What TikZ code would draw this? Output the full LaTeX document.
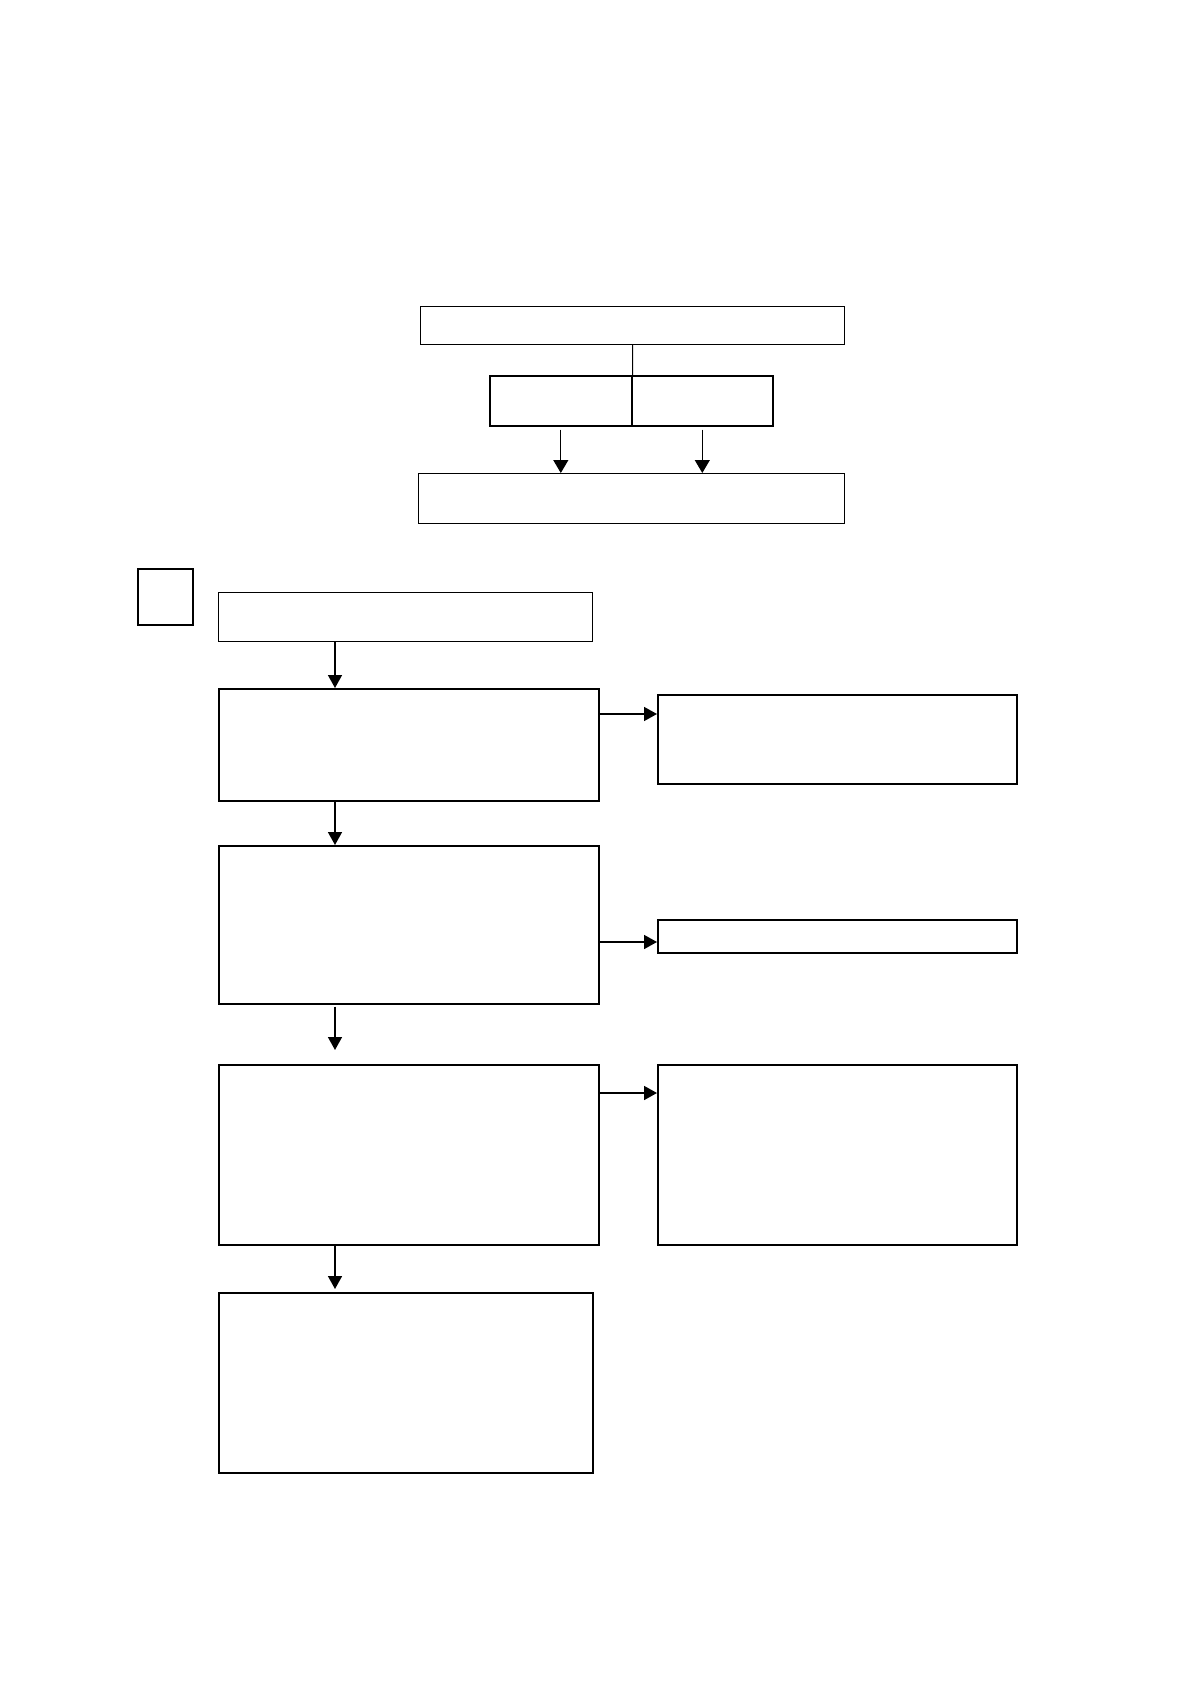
\documentclass[tikz,border=0pt]{standalone}
\usepackage{tikz}
\usetikzlibrary{arrows.meta,positioning,calc}
\tikzset{
  boxnd/.style={draw=black, line width=0.8pt, inner sep=0pt, anchor=north west},
  thinbox/.style={boxnd, line width=0.55pt},
  flow/.style={-{Triangle[length=6.5pt,width=7pt]}, line width=0.8pt},
  thinflow/.style={-{Triangle[length=6.5pt,width=7.5pt]}, line width=0.55pt},
}

\begin{document}
\begin{tikzpicture}[x=0.5pt, y=-0.5pt]
    \useasboundingbox (0,0) rectangle (1191,1684);
    % upper group
    \node[thinbox, minimum width=212pt, minimum height=19pt] (top) at (420,306) {};
    \node[boxnd, minimum width=71pt, minimum height=25pt] (ml) at (489,375) {};
    \node[boxnd, minimum width=70.5pt, minimum height=25pt] (mr) at (631,375) {};
    \node[thinbox, minimum width=213pt, minimum height=25pt] (bot) at (418,473) {};
    \draw[line width=0.55pt] (top.south) -- (ml.north east);
    \draw[thinflow] ([yshift=-1.5pt]ml.south) -- (bot.north -| ml.south);
    \draw[thinflow] ([yshift=-1.5pt]mr.south) -- (bot.north -| mr.south);
    % lower flow
    \node[boxnd, minimum width=27.5pt, minimum height=28pt] (tag) at (137,568) {};
    \node[thinbox, minimum width=187pt, minimum height=24.5pt] (s1) at (218,592) {};
    \node[boxnd, minimum width=190pt, minimum height=56pt] (s2) at (218,688) {};
    \node[boxnd, minimum width=190pt, minimum height=79pt] (s3) at (218,845) {};
    \node[boxnd, minimum width=190pt, minimum height=90pt] (s4) at (218,1064) {};
    \node[boxnd, minimum width=187pt, minimum height=90pt] (s5) at (218,1292) {};
    \node[boxnd, minimum width=179.5pt, minimum height=44.5pt] (r1) at (657,694) {};
    \node[boxnd, minimum width=179.5pt, minimum height=16.5pt] (r2) at (657,919) {};
    \node[boxnd, minimum width=179.5pt, minimum height=90pt] (r3) at (657,1064) {};
    \coordinate (col) at (335,0);
    \coordinate (row1) at (0,714);
    \coordinate (row2) at (0,942);
    \coordinate (row3) at (0,1093);
    \draw[flow] (s1.south -| col) -- (s2.north -| col);
    \draw[flow] (s2.south -| col) -- (s3.north -| col);
    \draw[flow] ([yshift=-1pt]s3.south -| col) -- ([yshift=7pt]s4.north -| col);
    \draw[flow] (s4.south -| col) -- ([yshift=1.5pt]s5.north -| col);
    \draw[flow] (s2.east |- row1) -- (r1.west |- row1);
    \draw[flow] (s3.east |- row2) -- (r2.west |- row2);
    \draw[flow] (s4.east |- row3) -- (r3.west |- row3);
  \end{tikzpicture}
\end{document}
